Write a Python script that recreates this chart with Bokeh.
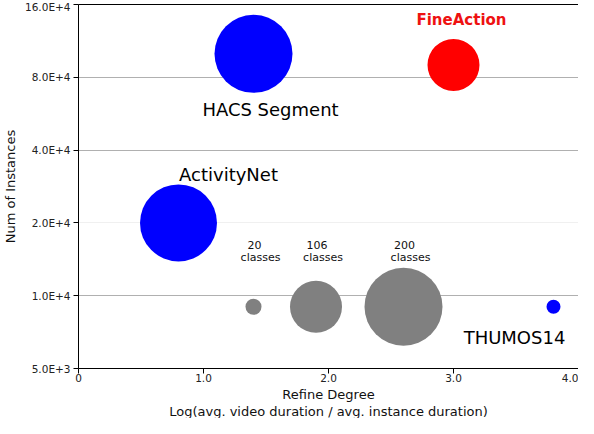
from bokeh.plotting import figure
from bokeh.models import (FixedTicker, Range1d, Grid, ColumnDataSource,
                          LinearAxis, Span, Title)
from bokeh.embed import file_html
from bokeh.resources import INLINE
from bokeh.core.properties import value

# ---------------- data ----------------
datasets = ["HACS Segment", "FineAction", "ActivityNet", "THUMOS14"]
ds_refine = [1.4, 3.0, 0.8, 3.8]
ds_instances = [100000, 90000, 20000, 9000]

class_counts = ["20", "106", "200"]
cls_refine = [1.4, 1.9, 2.6]
cls_instances = [9000, 9000, 9000]

y_ticks = [5000, 10000, 20000, 40000, 80000, 160000]
y_tick_labels = ["5.0E+3", "1.0E+4", "2.0E+4", "4.0E+4", "8.0E+4", "16.0E+4"]
x_ticks = [0, 1, 2, 3, 4]
x_tick_labels = ["0", "1.0", "2.0", "3.0", "4.0"]
x_title_lines = ["Refine Degree", "Log(avg. video duration / avg. instance duration)"]
y_title = "Num of Instances"

# ---------------- styles ----------------
FONT = "DejaVu Sans"
ds_size = [78, 52, 77, 14]
ds_color = ["#0000ff", "#ff0000", "#0000ff", "#0000ff"]
ds_label_color = ["#000000", "#ee1111", "#000000", "#000000"]
ds_label_style = ["normal", "bold", "normal", "normal"]
ds_label_size = ["18px", "15px", "18px", "18px"]
ds_label_dx = [17, 8, 50, -39]
ds_label_dy = [56, -45, -48, 31]
cls_size = [16, 52, 78]
cls_color = "#808080"

p = figure(width=578, height=418, output_backend="svg", toolbar_location=None,
           y_axis_type="log", x_range=Range1d(0, 4), y_range=Range1d(5000, 160000),
           min_border_left=60, min_border_right=0, min_border_top=4, min_border_bottom=0)
p.outline_line_color = None
p.background_fill_color = "white"
p.border_fill_color = "white"

# bubbles
src_ds = ColumnDataSource(dict(x=ds_refine, y=ds_instances, size=ds_size, color=ds_color,
                               name=datasets, lc=ds_label_color, fs=ds_label_style,
                               fsz=ds_label_size, dx=ds_label_dx, dy=ds_label_dy))
src_cls = ColumnDataSource(dict(x=cls_refine, y=cls_instances, size=cls_size,
                                num=class_counts, word=["classes"] * len(class_counts)))

p.scatter("x", "y", size="size", color=cls_color, line_color=None, source=src_cls)
p.scatter("x", "y", size="size", color="color", line_color=None, source=src_ds)

p.text("x", "y", text="name", source=src_ds, x_offset="dx", y_offset="dy",
       text_color="lc", text_font_style="fs", text_font_size="fsz",
       text_font=value(FONT), text_align="center", text_baseline="middle")
p.text("x", "y", text="num", source=src_cls, x_offset=1, y_offset=-62,
       text_font_size="11px", text_font=value(FONT), text_color="#111111",
       text_align="center", text_baseline="middle")
p.text("x", "y", text="word", source=src_cls, x_offset=7, y_offset=-49,
       text_font_size="11px", text_font=value(FONT), text_color="#111111",
       text_align="center", text_baseline="middle")

# grid
p.xgrid.grid_line_color = None
p.ygrid.ticker = FixedTicker(ticks=[10000, 40000, 80000])
p.ygrid.grid_line_color = "#b0b0b0"
faint = Grid(dimension=1, ticker=FixedTicker(ticks=[20000]), grid_line_color="#f0f0f0",
             level="underlay")
p.add_layout(faint)

# right border (light)
p.add_layout(Span(location=x_ticks[-1], dimension="height", line_color="#e6e6e6", line_width=1))

# axes
xa = p.xaxis[0]
xa.ticker = FixedTicker(ticks=x_ticks)
xa.major_label_overrides = {t: l for t, l in zip(x_ticks, x_tick_labels)}
ya = p.yaxis[0]
ya.ticker = FixedTicker(ticks=y_ticks)
ya.major_label_overrides = {t: l for t, l in zip(y_ticks, y_tick_labels)}
ya.axis_label = y_title
for ax in (xa, ya):
    ax.axis_line_color = "black"
    ax.major_tick_line_color = "black"
    ax.major_tick_out = 5
    ax.major_tick_in = 0
    ax.minor_tick_line_color = None
    ax.major_label_text_font = FONT
    ax.major_label_text_font_size = "10.5px"
    ax.major_label_text_color = "#222222"
    ax.axis_label_text_font = FONT
    ax.axis_label_text_font_size = "13px"
    ax.axis_label_text_font_style = "normal"
    ax.axis_label_text_color = "#111111"
xa.major_label_standoff = 0
ya.major_label_standoff = 3
ya.axis_label_standoff = 4

# x-axis title lines as stacked titles below the axis
for line in x_title_lines:
    p.add_layout(Title(text=line, align="center", text_font=FONT, text_font_size="13px",
                       text_font_style="normal", text_color="#111111",
                       standoff=0, offset=0), "below")

top = LinearAxis(ticker=FixedTicker(ticks=[]), axis_line_color="black",
                 major_tick_out=0, major_tick_in=0, minor_tick_line_color=None,
                 major_label_standoff=0, axis_label_standoff=0)
p.add_layout(top, "above")

open("out.html", "w").write(file_html(p, INLINE))
